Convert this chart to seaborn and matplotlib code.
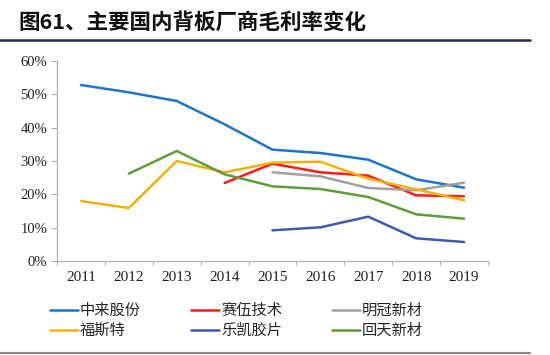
import numpy as np
import pandas as pd
import matplotlib
matplotlib.use("Agg")
import matplotlib.pyplot as plt
import seaborn as sns
from matplotlib.lines import Line2D

# data (gross margin, %); None = no data
years = [2011, 2012, 2013, 2014, 2015, 2016, 2017, 2018, 2019]
zhonglai = [52.8, 50.6, 48.0, 41.0, 33.4, 32.4, 30.4, 24.5, 22.0]
saiwu = [None, None, None, 23.4, 29.2, 26.6, 25.6, 19.7, 19.4]
mingguan = [None, None, None, None, 26.6, 25.4, 21.9, 21.2, 23.5]
fusite = [18.0, 15.9, 30.0, 26.6, 29.5, 29.8, 24.7, 21.5, 18.2]
lekai = [None, None, None, None, 9.2, 10.1, 13.3, 6.8, 5.7]
huitian = [None, 26.2, 33.0, 26.0, 22.4, 21.6, 19.2, 14.0, 12.7]

names = ["中来股份", "赛伍技术", "明冠新材", "福斯特", "乐凯胶片", "回天新材"]
series = [zhonglai, saiwu, mingguan, fusite, lekai, huitian]
colors = ["#1a76c8", "#ff1a1a", "#a0a0a0", "#ecb40c", "#3d5bad", "#609b3c"]

rows = []
for name, vals in zip(names, series):
    for y, v in zip(years, vals):
        if v is not None:
            rows.append({"year": y, "value": v / 100, "company": name})
df = pd.DataFrame(rows)

sns.set_theme(style="white")
plt.rcParams['font.family'] = ['Noto Sans CJK SC', 'DejaVu Sans']

fig = plt.figure(figsize=(5.5, 3.55), dpi=100)
ax = fig.add_axes([57 / 550, 1 - 261 / 355, 431 / 550, 200 / 355])

sns.lineplot(data=df, x="year", y="value", hue="company", hue_order=names,
             palette=colors, linewidth=1.8, legend=False, ax=ax)

ax.set_xlim(years[0] - 0.5, years[-1] + 0.5)
ax.set_ylim(0, 0.6)
ax.set_xlabel("")
ax.set_ylabel("")

ax.set_xticks(years)
ax.set_xticklabels([str(y) for y in years], family="Liberation Serif", fontsize=11)
ax.set_xticks(np.arange(years[0] - 0.5, years[-1] + 1, 1), minor=True)
ax.tick_params(axis="x", which="major", length=0, pad=7, colors="#222222")
ax.tick_params(axis="x", which="minor", length=3, width=0.8, color="#b0b0b0", bottom=True)

yt = np.arange(0, 0.61, 0.1)
ax.set_yticks(yt)
ax.set_yticklabels([f"{int(round(v * 100))}%" for v in yt], family="Liberation Serif", fontsize=10.5)
ax.tick_params(axis="y", length=4, width=0.8, color="#b0b0b0", left=True, pad=3, labelcolor="#222222")

for s in ["top", "right"]:
    ax.spines[s].set_visible(False)
for s in ["left", "bottom"]:
    ax.spines[s].set_color("#b0b0b0")
    ax.spines[s].set_linewidth(0.9)

# legend, filled column-wise
order = [0, 3, 1, 4, 2, 5]
handles = [Line2D([0], [0], color=colors[i], lw=1.8) for i in order]
labels = [names[i] for i in order]
fig.legend(handles, labels, ncol=3, loc="upper left", bbox_to_anchor=(50 / 550, 1 - 302 / 355),
           frameon=False, fontsize=11, handlelength=1.8, handletextpad=0.15,
           columnspacing=3.3, labelspacing=0.2, borderpad=0, borderaxespad=0)

# title and rules
fig.text(18 / 550, 1 - 22 / 355, "图61、主要国内背板厂商毛利率变化", fontsize=15.5,
         fontweight="bold", va="center", ha="left", color="#111111")
fig.add_artist(Line2D([0, 530 / 550], [1 - 40 / 355] * 2, color="#1f2a6b", lw=1.8))
fig.add_artist(Line2D([0, 530 / 550], [1 - 353 / 355] * 2, color="#8a8a8a", lw=1.5))

fig.savefig("out.png", dpi=100)
